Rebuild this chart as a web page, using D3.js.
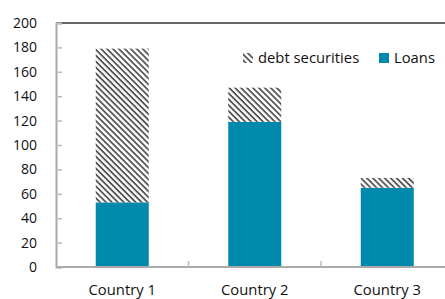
<!DOCTYPE html>
<html>
<head>
<meta charset="utf-8">
<script src="https://cdn.jsdelivr.net/npm/d3@7"></script>
<style>
  body { margin: 0; background: #fff; }
  text { font-family: "Open Sans", sans-serif; fill: #111; }
</style>
</head>
<body>
<script>
const countries = ['Country 1', 'Country 2', 'Country 3']
const loans = [53, 119, 65]
const debtSecurities = [126, 28, 8]
const yTicks = [0, 20, 40, 60, 80, 100, 120, 140, 160, 180, 200]

const W = 445, H = 299
const plotLeft = 56, plotRight = 453.5, plotTop = 23, plotBottom = 267

const svg = d3.select('body').append('svg')
    .attr('width', W)
    .attr('height', H)

const defs = svg.append('defs')
const pat = defs.append('pattern')
    .attr('id', 'hatch')
    .attr('patternUnits', 'userSpaceOnUse')
    .attr('width', 4.2)
    .attr('height', 4.2)
    .attr('patternTransform', 'rotate(45)')
pat.append('rect').attr('width', 4.2).attr('height', 4.2).attr('fill', '#fff')
pat.append('rect').attr('width', 4.2).attr('height', 1.8).attr('fill', '#555')

const x = d3.scaleBand()
    .domain(countries)
    .range([plotLeft, plotRight])
    .paddingInner(0.6)
    .paddingOuter(0.3)

const y = d3.scaleLinear()
    .domain([0, 200])
    .range([plotBottom, plotTop])

// stacked data
const rows = countries.map((c, i) => ({ country: c, loans: loans[i], debt: debtSecurities[i] }))
const stack = d3.stack().keys(['loans', 'debt'])(rows)
const fills = { loans: '#0089ad', debt: 'url(#hatch)' }

svg.append('g').selectAll('g')
    .data(stack)
    .join('g')
    .attr('fill', d => fills[d.key])
    .selectAll('rect')
    .data(d => d)
    .join('rect')
    .attr('x', d => x(d.data.country))
    .attr('y', d => y(d[1]))
    .attr('width', x.bandwidth())
    .attr('height', d => y(d[0]) - y(d[1]))

// top border
svg.append('line')
    .attr('x1', plotLeft).attr('x2', W)
    .attr('y1', plotTop).attr('y2', plotTop)
    .attr('stroke', '#333').attr('stroke-width', 1.5)

// y axis
const yAxis = svg.append('g')
    .attr('transform', `translate(${plotLeft},0)`)
    .call(d3.axisLeft(y).tickValues(yTicks).tickSize(-6).tickPadding(19))
yAxis.select('.domain').attr('stroke', '#aaa').attr('stroke-width', 2)
yAxis.selectAll('.tick line').attr('stroke', '#bbb').attr('stroke-width', 1.5)
yAxis.selectAll('.tick text')
    .style('font-family', '"Open Sans", sans-serif')
    .attr('font-size', 14)
    .attr('fill', '#111')

// x axis
const xAxis = svg.append('g')
    .attr('transform', `translate(0,${plotBottom})`)
xAxis.append('line')
    .attr('x1', plotLeft).attr('x2', W)
    .attr('stroke', '#aaa').attr('stroke-width', 2)
const step = x.step()
xAxis.selectAll('line.sep')
    .data(countries.slice(1))
    .join('line')
    .attr('class', 'sep')
    .attr('x1', d => x(d) - step * 0.3)
    .attr('x2', d => x(d) - step * 0.3)
    .attr('y1', 0).attr('y2', -6)
    .attr('stroke', '#bbb').attr('stroke-width', 1.5)
xAxis.selectAll('text')
    .data(countries)
    .join('text')
    .attr('x', d => x(d) + x.bandwidth() / 2)
    .attr('y', 28)
    .attr('text-anchor', 'middle')
    .attr('font-size', 14.8)
    .text(d => d)

// legend
const legend = svg.append('g')
const items = [
    { label: 'debt securities', fill: 'url(#hatch)', x: 243 },
    { label: 'Loans', fill: '#0089ad', x: 379 }
]
items.forEach(it => {
    legend.append('rect')
        .attr('x', it.x).attr('y', 53)
        .attr('width', 10).attr('height', 10)
        .attr('fill', it.fill)
    legend.append('text')
        .attr('x', it.x + 15).attr('y', 63)
        .attr('font-size', 14.8)
        .text(it.label)
})
</script>
</body>
</html>
